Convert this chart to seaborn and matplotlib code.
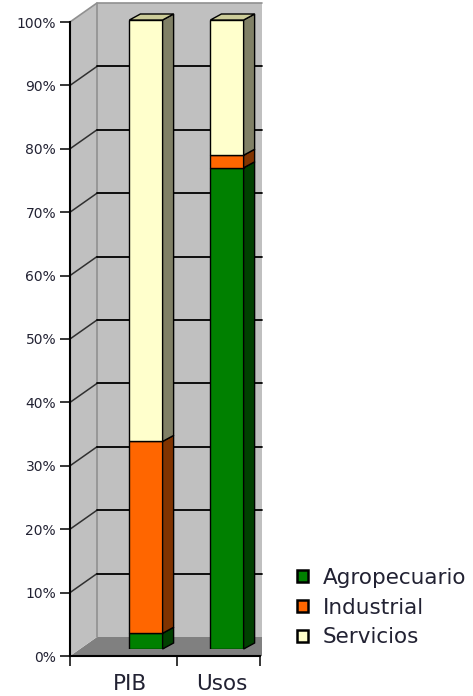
import numpy as np
import pandas as pd
import seaborn as sns
import matplotlib.pyplot as plt
from matplotlib.patches import Polygon

# values (percent of total)
categories = ['PIB', 'Usos']
agropecuario = [2.5, 76.5]
industrial = [30.5, 2.0]
servicios = [67.0, 21.5]
series_names = ['Agropecuario', 'Industrial', 'Servicios']
y_ticks = [0, 10, 20, 30, 40, 50, 60, 70, 80, 90, 100]
y_tick_labels = ['0%', '10%', '20%', '30%', '40%', '50%', '60%', '70%', '80%', '90%', '100%']

front_col = {'Agropecuario': '#008000', 'Industrial': '#ff6600', 'Servicios': '#ffffcc'}
side_col = {'Agropecuario': '#004000', 'Industrial': '#803300', 'Servicios': '#808066'}
top_col = '#cccc99'
wall_col = '#c0c0c0'
floor_col = '#808080'
txt_col = '#222233'

df = pd.DataFrame({'cat': categories,
                   'Agropecuario': agropecuario,
                   'Industrial': industrial,
                   'Servicios': servicios})

sns.set_style('white')
W, H = 473, 696
fig = plt.figure(figsize=(W / 100, H / 100), dpi=100)

# front axis (ticks, walls) and a second axes for the bars which sit a bit deeper
ax = fig.add_axes([70 / W, 40 / H, 192 / W, 634 / H])
ax_bars = fig.add_axes([70 / W, 47 / H, 192 / W, 629 / H])
xlim = (-0.938, 1.432)

# walls and floor, in axes fractions
dx, dy = 27 / 192, 19 / 634
ax.add_patch(Polygon([(0, 0), (dx, dy), (1, dy), (1, 0)], closed=True,
                     facecolor=floor_col, edgecolor='none', transform=ax.transAxes, clip_on=False, zorder=0))
ax.add_patch(Polygon([(dx, dy), (1, dy), (1, 1 + dy), (dx, 1 + dy)], closed=True,
                     facecolor=wall_col, edgecolor='none', transform=ax.transAxes, clip_on=False, zorder=0))
ax.add_patch(Polygon([(0, 0), (dx, dy), (dx, 1 + dy), (0, 1)], closed=True,
                     facecolor=wall_col, edgecolor='none', transform=ax.transAxes, clip_on=False, zorder=0))
ax.plot([dx, dx], [dy, 1 + dy], color='#909090', lw=1.2, transform=ax.transAxes, clip_on=False, zorder=1)
ax.plot([0, dx, 1], [1, 1 + dy, 1 + dy], color='#909090', lw=1.2, transform=ax.transAxes, clip_on=False, zorder=1)
for t in y_ticks[1:-1]:
    f = t / 100
    ax.plot([0, dx], [f, f + dy], color='#303030', lw=1.1, transform=ax.transAxes, clip_on=False, zorder=1)
    ax.plot([dx, 1], [f + dy, f + dy], color='black', lw=1.3, transform=ax.transAxes, clip_on=False, zorder=1)

ax.set_xlim(*xlim)
ax.set_ylim(0, 100)
ax.set_yticks(y_ticks, y_tick_labels)
ax.set_xticks([-0.2, 0.94], categories)
ax.set_xticks([xlim[0], 0.383, 1.407], minor=True)
ax.tick_params(axis='y', direction='out', length=7, width=1.3, pad=3, labelsize=10,
               labelcolor=txt_col, left=True)
ax.tick_params(axis='x', which='major', length=0, pad=13, labelsize=15.5, labelcolor=txt_col)
ax.tick_params(axis='x', which='minor', direction='out', length=7, width=1.3, bottom=True)
for s in ['top', 'right']:
    ax.spines[s].set_visible(False)
ax.spines['left'].set_linewidth(1.5)
ax.spines['bottom'].set_linewidth(1.5)
ax.spines['left'].set_color('black')
ax.spines['bottom'].set_color('black')
ax.spines['bottom'].set_bounds(xlim[0], 1.407)
ax.set_facecolor('none')

# stacked bars
bar_w = 0.41
bottom = np.zeros(len(categories))
sdx, sdy = 11 / 81, 6 / 629 * 100
for k, name in enumerate(series_names):
    vals = df[name].to_numpy()
    sns.barplot(x=df['cat'], y=vals, bottom=bottom, color=front_col[name], saturation=1,
                edgecolor='black', linewidth=1, width=bar_w, label=name, ax=ax_bars)
    for j in range(len(categories)):
        x1 = j + bar_w / 2
        y0, y1 = bottom[j], bottom[j] + vals[j]
        ax_bars.add_patch(Polygon([(x1, y0), (x1 + sdx, y0 + sdy), (x1 + sdx, y1 + sdy), (x1, y1)],
                                  closed=True, facecolor=side_col[name], edgecolor='black',
                                  linewidth=1, clip_on=False))
        if k == len(series_names) - 1:
            x0 = j - bar_w / 2
            ax_bars.add_patch(Polygon([(x0, y1), (x0 + sdx, y1 + sdy), (x1 + sdx, y1 + sdy), (x1, y1)],
                                      closed=True, facecolor=top_col, edgecolor='black',
                                      linewidth=1, clip_on=False))
    bottom = bottom + vals

ax_bars.set_xlim(*xlim)
ax_bars.set_ylim(0, 100)
ax_bars.axis('off')

handles, labels = ax_bars.get_legend_handles_labels()
if ax_bars.get_legend() is not None:
    ax_bars.get_legend().remove()
leg = fig.legend(handles, labels, loc='upper left', bbox_to_anchor=(297 / W, 1 - 568 / H),
                 frameon=False, fontsize=15.5, handlelength=0.5, handleheight=0.5,
                 handletextpad=0.7, labelspacing=0.45, borderpad=0, borderaxespad=0)
for h in leg.legend_handles:
    h.set_linewidth(1.8)
for t in leg.get_texts():
    t.set_color(txt_col)

fig.savefig('out.png', dpi=100)
